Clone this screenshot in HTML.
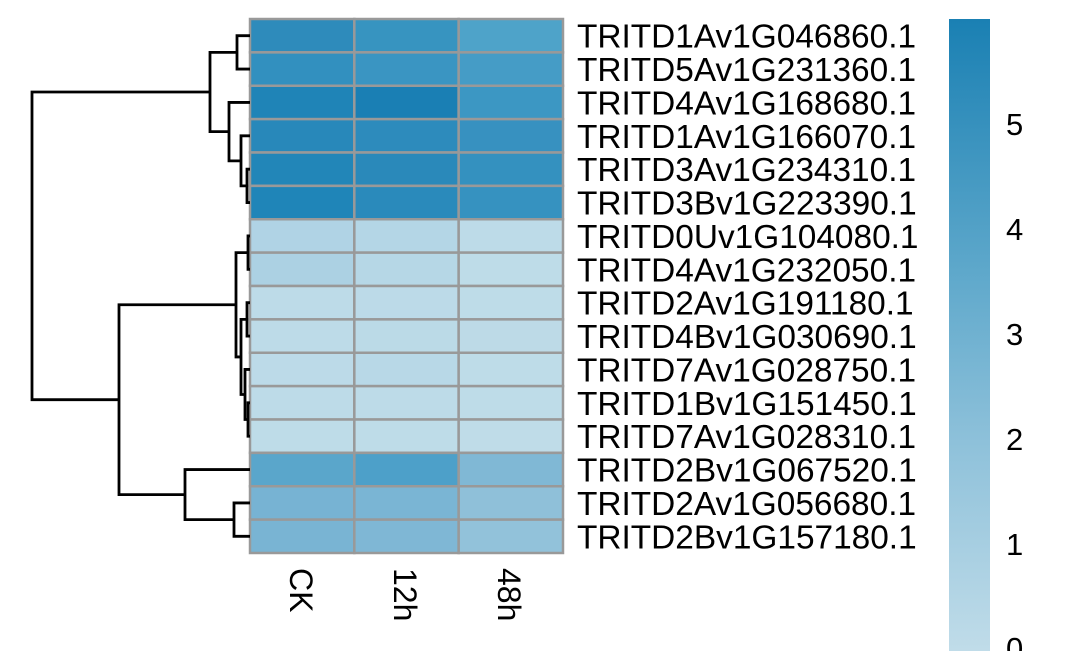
<!DOCTYPE html>
<html><head><meta charset="utf-8"><style>body{margin:0;background:#fff}svg{display:block}text{font-family:"Liberation Sans",sans-serif;fill:#000}</style></head>
<body>
<svg width="1067" height="651" viewBox="0 0 1067 651">
<defs><linearGradient id="g" x1="0" y1="1" x2="0" y2="0"><stop offset="0" stop-color="#c0dce9"/><stop offset="0.33" stop-color="#8ec1da"/><stop offset="0.6" stop-color="#5ea8cb"/><stop offset="1" stop-color="#1a80b3"/></linearGradient></defs>
<g id="cells"></g>
<g id="dendro" stroke="#000" stroke-width="2.8" fill="none"></g>
<rect x="949" y="19" width="41" height="632" fill="url(#g)"/>
<g font-size="31">
<text x="1006" y="135">5</text><text x="1006" y="240">4</text><text x="1006" y="345">3</text><text x="1006" y="450">2</text><text x="1006" y="555">1</text><text x="1006" y="659">0</text>
</g>
<g font-size="32">
<text transform="translate(290,568) rotate(90)">CK</text>
<text transform="translate(394,568) rotate(90)">12h</text>
<text transform="translate(498,568) rotate(90)">48h</text>
</g>
<g id="labels" font-size="33.4"></g>
</svg>
<script>
var cols=[["#2e8bbb","#3794c0","#4ea3c9"],["#3290bf","#3a95c2","#459cc6"],["#1f84b7","#1a7fb4","#3c97c3"],["#2888ba","#2d8bbc","#3791c0"],["#2286b8","#2a89ba","#3491bf"],["#1f85b8","#2a8abb","#3692c0"],["#b0d3e5","#b4d6e6","#bddbe8"],["#acd1e3","#b6d7e6","#bedce8"],["#bddbe8","#bcdae8","#bedce8"],["#bddbe8","#bbdae7","#bddae7"],["#bcdae8","#b8d8e7","#bedce8"],["#bddbe8","#bddbe8","#bedce8"],["#bedce8","#bedce8","#bfdce8"],["#5aa6cb","#4da0c9","#80b8d5"],["#77b3d3","#7ab5d4","#8fc0d9"],["#79b4d3","#7fb7d5","#92c2da"]];
var names=["TRITD1Av1G046860.1","TRITD5Av1G231360.1","TRITD4Av1G168680.1","TRITD1Av1G166070.1","TRITD3Av1G234310.1","TRITD3Bv1G223390.1","TRITD0Uv1G104080.1","TRITD4Av1G232050.1","TRITD2Av1G191180.1","TRITD4Bv1G030690.1","TRITD7Av1G028750.1","TRITD1Bv1G151450.1","TRITD7Av1G028310.1","TRITD2Bv1G067520.1","TRITD2Av1G056680.1","TRITD2Bv1G157180.1"];
var x0=250,y0=19,cw=104.33,rh=33.375,s="";
for(var i=0;i<16;i++){for(var j=0;j<3;j++){s+='<rect x="'+(x0+j*cw)+'" y="'+(y0+i*rh)+'" width="'+cw+'" height="'+rh+'" fill="'+cols[i][j]+'" stroke="#999" stroke-width="2.5"/>';}}
document.getElementById("cells").innerHTML=s;
var l="";for(var i=0;i<16;i++)l+='<text x="577" y="'+(y0+(i+0.5)*rh+12)+'">'+names[i]+'</text>';
document.getElementById("labels").innerHTML=l;
function c(i){return y0+(i+0.5)*rh;}
function L(i){return {x:250,y:c(i)};}
var d="";
function N(a,b,x){d+='M'+a.x+' '+a.y+'H'+x+'V'+b.y+'H'+b.x;return {x:x,y:(a.y+b.y)/2};}
var n01=N(L(0),L(1),237);
var n45=N(L(4),L(5),247);
var n345=N(L(3),n45,241);
var n2345=N(L(2),n345,229);
var nTop=N(n01,n2345,210);
var n67=N(L(6),L(7),248);
var n89=N(L(8),L(9),247);
var n1112=N(L(11),L(12),248);
var n1012=N(L(10),n1112,245);
var n812=N(n89,n1012,241);
var n612=N(n67,n812,236);
var n1415=N(L(14),L(15),234);
var n1315=N(L(13),n1415,185);
var nBot=N(n612,n1315,119);
N(nTop,nBot,32);
document.getElementById("dendro").innerHTML='<path d="'+d+'"/>';
</script>
</body></html>
